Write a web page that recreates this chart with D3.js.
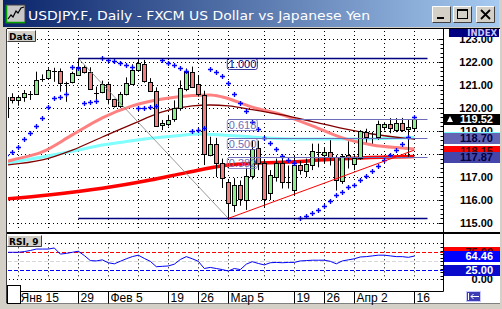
<!DOCTYPE html>
<html>
<head>
<meta charset="utf-8">
<script src="https://cdn.jsdelivr.net/npm/d3@7"></script>
<style>body{margin:0;background:#d4d0c8}</style>
</head>
<body>
<svg id="chart" width="502" height="309"></svg>
<script>
// bars: index -1 .. 67 (index -1 is the half-hidden first bar)
const firstIdx = -1;
const opens  = [119.65,120.49,120.32,120.47,120.6,120.6,121.25,121.29,121.61,121.61,121.07,121.1,121.47,121.8,121.58,120.67,120.68,121.04,120.38,120.1,120.6,121.03,121.65,121.9,121.14,120.74,119.23,119.33,119.5,119.99,120.86,121.58,121.03,120.57,117.96,118.43,117.6,116.78,115.78,116.65,116.0,117.04,118.25,117.6,116.3,116.99,117.6,116.8,116.43,117.52,117.26,117.52,118.1,117.99,118.1,117.86,116.84,117.96,117.55,117.84,118.94,118.71,118.75,119.19,119.3,119.07,119.36,119.08,119.15];
const highs  = [120.55,120.64,120.53,120.78,120.74,121.58,121.46,121.73,121.75,121.72,121.14,121.58,122.16,121.85,121.77,120.93,121.19,121.14,120.4,120.7,121.33,121.9,122.09,122.09,121.3,120.9,119.48,119.7,120.33,121.2,121.72,121.8,121.4,120.75,118.75,118.7,117.8,116.87,116.95,116.85,117.4,118.6,118.58,117.78,117.3,117.8,117.8,117.5,117.96,117.7,117.8,118.45,118.45,118.3,118.6,117.95,118.0,118.55,118.0,119.04,119.1,118.96,119.45,119.38,119.56,119.56,119.57,119.5,119.6];
const lows   = [119.5,120.2,120.1,120.27,120.35,120.57,121.14,121.27,121.14,120.71,120.27,121.07,121.47,121.5,120.86,120.27,120.64,120.16,120.02,120.0,120.55,121.0,121.6,121.1,120.7,119.2,119.04,119.2,119.4,119.88,120.73,120.9,120.5,117.52,117.9,117.0,116.52,115.2,115.48,115.75,115.57,116.9,117.3,115.7,116.0,116.8,116.5,116.5,116.2,117.1,117.0,117.3,117.42,117.6,117.5,116.41,116.7,117.37,117.3,117.75,118.5,118.45,118.62,119.03,118.9,118.95,118.96,117.88,118.97];
const closes = [120.5,120.35,120.47,120.64,120.6,121.22,121.25,121.65,121.61,121.07,121.07,121.51,121.8,121.58,120.86,120.67,121.03,120.39,120.06,120.6,121.07,121.65,121.94,121.17,120.74,119.23,119.33,119.5,119.99,120.86,121.58,120.93,120.6,117.99,118.43,117.6,116.96,115.87,116.65,116.04,117.04,118.2,117.6,116.05,117.08,117.6,116.78,116.8,117.52,117.3,117.56,118.13,118.1,118.1,117.88,116.87,117.91,117.86,117.81,119.0,118.71,118.71,119.3,119.3,119.12,119.36,119.07,119.16,119.52];

// parabolic SAR per bar
const sar = [117.95,118.1,118.32,118.64,118.9,119.22,119.58,120.06,120.42,120.5,120.62,121.78,121.75,120.2,120.25,120.32,122.16,122.1,122.03,121.95,121.87,121.8,119.98,120.0,120.05,120.1,122.09,121.97,121.85,121.74,121.62,119.0,119.05,119.12,121.68,121.58,121.4,121.08,120.6,120.2,119.85,119.4,119.07,118.7,118.47,118.2,117.93,117.74,117.6,115.2,115.3,115.42,115.56,115.74,115.97,116.2,116.36,116.57,116.67,116.86,117.06,117.28,117.5,117.74,117.95,118.17,118.42,118.75,119.6];

// RSI(9) per bar
const rsi = [75,75,75,77,80,84,84,84,87,70,72,75,78,66,52,51,54,46,43,50,57,63,67,58,50,35,36,37,42,55,63,57,50,30,33,30,27,23,30,27,42,49,44,40,46,47,46,47,47,51,52,53,53,53,50,43,51,54,57,62,63,65,67,67,65,63,63,61,64.5];

// moving averages, [bar index, value]
const maSlow  = [[-1,116.05],[6,116.22],[15,116.51],[23,116.87],[29,117.19],[36,117.52],[40,117.6],[48,117.67],[51,117.74],[58,117.83],[67,117.89]];
const maPink  = [[-1,117.67],[0,117.74],[5,118.09],[10,118.83],[15,119.57],[20,120.09],[25,120.39],[30,120.54],[33,120.57],[35,120.48],[40,120.04],[45,119.7],[50,119.22],[55,118.7],[60,118.39],[65,118.26],[67,118.22]];
const maDark  = [[-1,117.52],[5,117.74],[10,118.17],[15,118.74],[20,119.3],[25,119.83],[30,120.09],[33,120.13],[36,120.09],[40,119.93],[45,119.7],[50,119.41],[55,119.11],[60,118.87],[65,118.7],[67,118.65]];
const maCyan  = [[-1,117.61],[5,117.87],[11,118.17],[15,118.39],[19,118.54],[23,118.68],[27,118.78],[31,118.87],[35,118.83],[40,118.74],[48,118.65],[56,118.65],[67,118.72]];

// fibonacci retracement
const fibHighIdx = 11, fibHigh = 122.16;
const fibLowIdx = 36, fibLow = 115.2;
const fibEndIdx = 69.2;
const fibLevels = [1, 0.618, 0.5, 0.382, 0];
// support trend line
const trendStart = [36, 115.2];
const trendEnd = [67, 118.17];

const priceTicks = [115, 116, 117, 118, 119, 120, 121, 122, 123];
const lastPrice = 119.52;
const markFib = 118.70, markTrend = 118.15, markFib2 = 117.87, markCyan = 118.72;
const rsiLevels = [75, 50, 25];
const rsiLast = 64.46;

const gridIdx = [1, 6, 11, 16, 21, 26, 31, 36, 42, 47, 52, 57, 62, 67];
const dateIdx = [1, 11, 16, 26, 31, 36, 47, 52, 57, 67];
const dateLabels = ['Янв 15', '29', 'Фев 5', '19', '26', 'Мар 5', '19', '26', 'Апр 2', '16'];

const title = 'USDJPY.F, Daily - FXCM US Dollar vs Japanese Yen';

const svg = d3.select('#chart');
const plotL = 7, plotR = 443.5, mainTop = 29, mainBot = 232, rsiTop = 234, rsiBot = 291.5, dateBot = 303.5;

const x = d3.scaleLinear().domain([-1, 67]).range([6.3, 414.3]);
const y = d3.scaleLinear().domain([115, 123]).range([223, 39]);
const yr = d3.scaleLinear().domain([0, 100]).range([279.3, 243.3]);
const px = v => Math.round(x(v)) + 0.5;
const bars = d3.range(opens.length).map(i => ({
  k: i + firstIdx, o: opens[i], h: highs[i], l: lows[i], c: closes[i], s: sar[i], r: rsi[i]
}));

const defs = svg.append('defs');
const grad = defs.append('linearGradient').attr('id', 'tb');
grad.append('stop').attr('offset', '0%').attr('stop-color', '#0a246a');
grad.append('stop').attr('offset', '100%').attr('stop-color', '#a6caf0');
defs.append('clipPath').attr('id', 'clipMain').append('rect')
  .attr('x', 8).attr('y', mainTop + 1).attr('width', plotR - 8.5).attr('height', mainBot - mainTop - 1);
defs.append('clipPath').attr('id', 'clipRsi').append('rect')
  .attr('x', 8).attr('y', rsiTop).attr('width', plotR - 8.5).attr('height', rsiBot - rsiTop);

// window frame + title bar
svg.append('rect').attr('width', 502).attr('height', 309).attr('fill', '#d4d0c8');
svg.append('rect').attr('x', 3).attr('y', 0).attr('width', 496).attr('height', 27).attr('fill', 'url(#tb)');
const icon = svg.append('g');
icon.append('rect').attr('x', 6).attr('y', 5).attr('width', 19).attr('height', 18).attr('fill', '#c8c8c8').attr('stroke', '#404040');
icon.append('path').attr('d', 'M6.5,5.5V22.5H25').attr('fill', 'none').attr('stroke', '#00a000').attr('stroke-width', 1.5);
icon.append('path').attr('d', 'M8,19L11,15L13,17L16,11L18,13L21,8L24,7').attr('fill', 'none').attr('stroke', '#000').attr('stroke-width', 1.2);
svg.append('text').attr('x', 28).attr('y', 19.5).text(title)
  .attr('font-family', 'DejaVu Sans').attr('font-size', 12.5).attr('fill', '#fff')
  .attr('textLength', 342).attr('lengthAdjust', 'spacingAndGlyphs');

function bevel(g, bx, by, w, h) {
  g.append('rect').attr('x', bx).attr('y', by).attr('width', w).attr('height', h).attr('fill', '#d4d0c8');
  g.append('path').attr('d', `M${bx + 0.5},${by + h - 0.5}V${by + 0.5}H${bx + w - 0.5}`).attr('fill', 'none').attr('stroke', '#fff');
  g.append('path').attr('d', `M${bx + 0.5},${by + h - 0.5}H${bx + w - 0.5}V${by + 0.5}`).attr('fill', 'none').attr('stroke', '#404040');
}
const btns = svg.append('g');
bevel(btns, 432, 6, 19, 17);
btns.append('rect').attr('x', 437).attr('y', 17).attr('width', 7).attr('height', 2).attr('fill', '#000');
bevel(btns, 453, 6, 19, 17);
btns.append('rect').attr('x', 457.5).attr('y', 9.5).attr('width', 10).attr('height', 9).attr('fill', 'none').attr('stroke', '#000');
btns.append('rect').attr('x', 457).attr('y', 9).attr('width', 11).attr('height', 2).attr('fill', '#000');
bevel(btns, 476, 6, 19, 17);
btns.append('path').attr('d', 'M481,10L490,19M490,10L481,19').attr('stroke', '#000').attr('stroke-width', 1.8);

// chart panels
svg.append('rect').attr('x', plotL).attr('y', mainTop).attr('width', 500 - plotL).attr('height', dateBot - mainTop).attr('fill', '#fff');
svg.append('line').attr('x1', 6.5).attr('x2', 6.5).attr('y1', mainTop).attr('y2', dateBot).attr('stroke', '#404040');
svg.append('line').attr('x1', plotL).attr('x2', 500).attr('y1', mainTop - 0.5).attr('y2', mainTop - 0.5).attr('stroke', '#000');

// grid
const grid = svg.append('g').attr('stroke', '#000').attr('stroke-dasharray', '1,3');
grid.selectAll('line.h').data(priceTicks).join('line')
  .attr('x1', 9).attr('x2', plotR - 1)
  .attr('y1', d => Math.round(y(d)) + 0.5).attr('y2', d => Math.round(y(d)) + 0.5);
grid.selectAll('line.v').data(gridIdx).join('line').attr('class', 'v')
  .attr('x1', d => px(d)).attr('x2', d => px(d)).attr('y1', mainTop + 2).attr('y2', mainBot - 1);
grid.selectAll('line.rv').data(gridIdx).join('line').attr('class', 'rv')
  .attr('x1', d => px(d)).attr('x2', d => px(d)).attr('y1', yr(100)).attr('y2', yr(0));
grid.selectAll('line.rh').data([100, 0]).join('line').attr('class', 'rh')
  .attr('x1', 9).attr('x2', plotR - 1)
  .attr('y1', d => Math.round(yr(d)) + 0.5).attr('y2', d => Math.round(yr(d)) + 0.5);

const main = svg.append('g').attr('clip-path', 'url(#clipMain)');

// moving averages
const maLine = d3.line().x(d => x(d[0])).y(d => y(d[1])).curve(d3.curveMonotoneX);
main.append('path').attr('d', maLine(maCyan)).attr('fill', 'none').attr('stroke', '#80ffff').attr('stroke-width', 3);
main.append('path').attr('d', maLine(maSlow)).attr('fill', 'none').attr('stroke', '#ff0000').attr('stroke-width', 3.5);
main.append('path').attr('d', maLine(maPink)).attr('fill', 'none').attr('stroke', '#ff8080').attr('stroke-width', 3);
main.append('path').attr('d', maLine(maDark)).attr('fill', 'none').attr('stroke', '#800000').attr('stroke-width', 1.3);

// candles
const cg = main.selectAll('g.bar').data(bars).join('g').attr('class', 'bar');
cg.append('line')
  .attr('x1', d => px(d.k)).attr('x2', d => px(d.k))
  .attr('y1', d => y(d.h)).attr('y2', d => y(d.l))
  .attr('stroke', '#000');
cg.filter(d => Math.abs(d.o - d.c) >= 0.04).append('rect')
  .attr('x', d => px(d.k) - 2).attr('width', 4)
  .attr('y', d => Math.round(y(Math.max(d.o, d.c))) + 0.5)
  .attr('height', d => Math.max(1, Math.round(y(Math.min(d.o, d.c)) - y(Math.max(d.o, d.c)))))
  .attr('fill', d => d.c > d.o ? '#90ee90' : '#f08080')
  .attr('stroke', '#000');
cg.filter(d => Math.abs(d.o - d.c) < 0.04).append('line')
  .attr('x1', d => px(d.k) - 2.5).attr('x2', d => px(d.k) + 2.5)
  .attr('y1', d => Math.round(y(d.c)) + 0.5).attr('y2', d => Math.round(y(d.c)) + 0.5)
  .attr('stroke', '#000');

// parabolic SAR
main.selectAll('path.sar').data(bars).join('path').attr('class', 'sar')
  .attr('d', d => {
    const cx = px(d.k), cy = Math.round(y(d.s)) + 0.5;
    return `M${cx - 2.5},${cy}H${cx + 2.5}M${cx},${cy - 2.5}V${cy + 2.5}`;
  })
  .attr('stroke', '#0000ff').attr('stroke-width', 1.3);

// fibonacci
const fibVal = r => fibLow + r * (fibHigh - fibLow);
main.append('line')
  .attr('x1', x(fibHighIdx)).attr('y1', y(fibHigh)).attr('x2', x(fibLowIdx)).attr('y2', y(fibLow))
  .attr('stroke', '#808080').attr('stroke-width', 0.8);
fibLevels.forEach(r => {
  const edge = r === 1 || r === 0;
  const col = edge ? '#000080' : '#6c6cb8';
  const yy = Math.round(y(fibVal(r))) + 0.5;
  main.append('line')
    .attr('x1', x(edge ? fibHighIdx : fibLowIdx)).attr('x2', x(fibEndIdx))
    .attr('y1', yy).attr('y2', yy).attr('stroke', col).attr('stroke-width', edge ? 1.5 : 1);
  if (r === 0) return;
  main.append('rect').attr('x', x(fibLowIdx) - 1).attr('y', yy).attr('width', 30).attr('height', 11)
    .attr('rx', 2).attr('fill', 'none').attr('stroke', col).attr('stroke-width', 0.8);
  main.append('text').attr('x', x(fibLowIdx) + 0.5).attr('y', yy + 9.5).text(r.toFixed(3))
    .attr('font-family', 'Liberation Sans').attr('font-size', 11).attr('fill', col);
});
main.append('line')
  .attr('x1', x(trendStart[0])).attr('y1', y(trendStart[1])).attr('x2', x(trendEnd[0])).attr('y2', y(trendEnd[1]))
  .attr('stroke', '#ff0000').attr('stroke-width', 1);

// RSI panel
const rsiG = svg.append('g').attr('clip-path', 'url(#clipRsi)');
const lvlCol = { 75: '#ff0000', 50: '#d8d8d8', 25: '#0000ff' };
rsiG.selectAll('line.lvl').data(rsiLevels).join('line').attr('class', 'lvl')
  .attr('x1', 8).attr('x2', plotR)
  .attr('y1', d => Math.round(yr(d)) + 0.5).attr('y2', d => Math.round(yr(d)) + 0.5)
  .attr('stroke', d => lvlCol[d]).attr('stroke-dasharray', '4,2');
rsiG.append('path')
  .attr('d', d3.line().x(d => x(d.k)).y(d => yr(d.r))(bars))
  .attr('fill', 'none').attr('stroke', '#0000ff').attr('stroke-width', 1);

// panel separators and frame
svg.append('rect').attr('x', plotL).attr('y', mainBot).attr('width', 500 - plotL).attr('height', 2).attr('fill', '#000');
svg.append('line').attr('x1', plotR).attr('x2', plotR).attr('y1', mainTop).attr('y2', rsiBot).attr('stroke', '#000');
svg.append('line').attr('x1', plotL).attr('x2', plotR).attr('y1', rsiBot).attr('y2', rsiBot).attr('stroke', '#000');
svg.append('rect').attr('x', 0).attr('y', dateBot).attr('width', 502).attr('height', 309 - dateBot).attr('fill', '#d4d0c8');
svg.append('line').attr('x1', plotL).attr('x2', 500).attr('y1', dateBot).attr('y2', dateBot).attr('stroke', '#808080');
svg.append('rect').attr('x', 500).attr('y', mainTop).attr('width', 2).attr('height', 280).attr('fill', '#d4d0c8');

// price axis
const tickVals = d3.range(115, 123.01, 0.2);
svg.append('g').selectAll('line').data(tickVals).join('line')
  .attr('x1', d => Math.abs(d - Math.round(d)) < 0.01 ? plotR - 5 : plotR - 3).attr('x2', plotR)
  .attr('y1', d => Math.round(y(d)) + 0.5).attr('y2', d => Math.round(y(d)) + 0.5)
  .attr('stroke', '#000');
svg.append('g').selectAll('line').data(d3.range(0, 101, 10)).join('line')
  .attr('x1', plotR - 3).attr('x2', plotR)
  .attr('y1', d => Math.round(yr(d)) + 0.5).attr('y2', d => Math.round(yr(d)) + 0.5)
  .attr('stroke', '#000');

const axisFont = sel => sel.attr('font-family', 'Liberation Sans').attr('font-weight', 'bold').attr('font-size', 11).attr('text-anchor', 'end');
svg.append('g').selectAll('text').data(priceTicks).join('text')
  .attr('x', 493).attr('y', d => y(d) + 4).text(d => d.toFixed(2)).call(axisFont);

svg.append('rect').attr('x', 449).attr('y', mainTop).attr('width', 50).attr('height', 8).attr('fill', '#000080');
svg.append('text').attr('x', 497).attr('y', mainTop + 7).text('INDEX')
  .attr('font-family', 'DejaVu Sans').attr('font-weight', 'bold').attr('font-size', 8.5)
  .attr('text-anchor', 'end').attr('fill', '#c8c8ff');

function marker(v, scale, fill, textCol) {
  const cy = scale(v);
  svg.append('rect').attr('x', plotR + 0.5).attr('y', Math.round(cy) - 5).attr('width', 56).attr('height', 11)
    .attr('fill', fill);
  svg.append('text').attr('x', 493).attr('y', cy + 4).text(v.toFixed(2)).call(axisFont).attr('fill', textCol);
}
svg.append('rect').attr('x', plotR + 0.5).attr('y', Math.round(y(markCyan)) - 5).attr('width', 56).attr('height', 2).attr('fill', '#80ffff');
marker(markFib, y, '#6464b4', '#000040');
marker(markTrend, y, '#ff0000', '#400000');
marker(markFib2, y, '#4646aa', '#000040');
marker(lastPrice, y, '#000', '#fff');
svg.append('path').attr('d', `M447,${y(lastPrice) + 3}l3,-6l3,6z`).attr('fill', '#fff');

// RSI axis
svg.append('text').attr('x', 493).attr('y', yr(0) + 4).text('0.00').call(axisFont);
marker(75, yr, '#ff0000', '#400000');
marker(rsiLast, yr, '#0000ff', '#fff');
marker(25, yr, '#0a0acd', '#fff');

// labels
const dataBox = svg.append('g');
bevel(dataBox, plotL, mainTop + 1, 29, 12);
dataBox.append('text').attr('x', 9).attr('y', mainTop + 10.5).text('Data')
  .attr('font-family', 'DejaVu Sans').attr('font-weight', 'bold').attr('font-size', 9);
const rsiBox = svg.append('g');
bevel(rsiBox, plotL, rsiTop + 1, 35, 12);
rsiBox.append('text').attr('x', 9).attr('y', rsiTop + 10.5).text('RSI, 9')
  .attr('font-family', 'DejaVu Sans').attr('font-weight', 'bold').attr('font-size', 9);

// date axis
const dg = svg.append('g');
dateIdx.forEach((k, i) => {
  dg.append('line').attr('x1', px(k)).attr('x2', px(k)).attr('y1', rsiBot).attr('y2', dateBot).attr('stroke', '#000');
  dg.append('text').attr('x', px(k) + 2).attr('y', dateBot - 2).text(dateLabels[i])
    .attr('font-family', 'Liberation Sans').attr('font-size', 12);
});
svg.append('rect').attr('x', plotL + 0.5).attr('y', 285.5).attr('width', 13).attr('height', 18).attr('fill', '#fff').attr('stroke', '#000');
svg.append('rect').attr('x', 466).attr('y', 291).attr('width', 15).attr('height', 11).attr('fill', '#3c3cb4');
svg.append('path').attr('d', 'M468.5,293V300M479,296.5H471M473.5,294L471,296.5L473.5,299').attr('fill', 'none').attr('stroke', '#fff');
svg.append('rect').attr('x', 466.5).attr('y', 291.5).attr('width', 14).attr('height', 10).attr('fill', 'none').attr('stroke', '#c8c8ff');
</script>
</body>
</html>
